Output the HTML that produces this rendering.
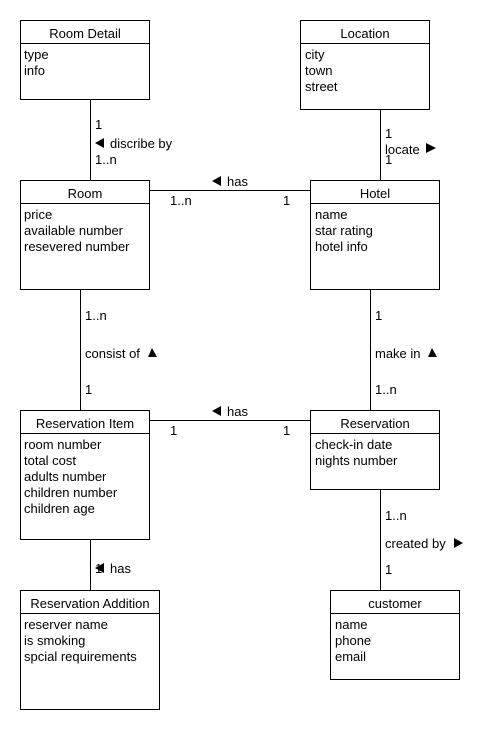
<!DOCTYPE html>
<html><head><meta charset="utf-8"><style>
html,body{margin:0;padding:0;background:#fff;}
svg{display:block;font-family:"Liberation Sans",Arial,sans-serif;font-size:13px;}
</style></head><body>
<svg width="500" height="730" viewBox="0 0 500 730" xmlns="http://www.w3.org/2000/svg">
<g fill="#fff" stroke="#000" stroke-width="1">
<rect x="20.5" y="20.5" width="129" height="79"/><line x1="20.5" y1="43.5" x2="149.5" y2="43.5"/>
<rect x="300.5" y="20.5" width="129" height="89"/><line x1="300.5" y1="43.5" x2="429.5" y2="43.5"/>
<rect x="20.5" y="180.5" width="129" height="109"/><line x1="20.5" y1="203.5" x2="149.5" y2="203.5"/>
<rect x="310.5" y="180.5" width="129" height="109"/><line x1="310.5" y1="203.5" x2="439.5" y2="203.5"/>
<rect x="20.5" y="410.5" width="129" height="129"/><line x1="20.5" y1="433.5" x2="149.5" y2="433.5"/>
<rect x="310.5" y="410.5" width="129" height="79"/><line x1="310.5" y1="433.5" x2="439.5" y2="433.5"/>
<rect x="20.5" y="590.5" width="139" height="119"/><line x1="20.5" y1="613.5" x2="159.5" y2="613.5"/>
<rect x="330.5" y="590.5" width="129" height="89"/><line x1="330.5" y1="613.5" x2="459.5" y2="613.5"/>
<line x1="90.5" y1="99.5" x2="90.5" y2="180.5"/>
<line x1="380.5" y1="109.5" x2="380.5" y2="180.5"/>
<line x1="149.5" y1="190.5" x2="310.5" y2="190.5"/>
<line x1="80.5" y1="289.5" x2="80.5" y2="410.5"/>
<line x1="370.5" y1="289.5" x2="370.5" y2="410.5"/>
<line x1="149.5" y1="420.5" x2="310.5" y2="420.5"/>
<line x1="380.5" y1="489.5" x2="380.5" y2="590.5"/>
<line x1="90.5" y1="539.5" x2="90.5" y2="590.5"/>
</g>
<g fill="#000">
<g text-anchor="middle">
<text x="85" y="38">Room Detail</text>
<text x="365" y="38">Location</text>
<text x="85" y="198">Room</text>
<text x="375" y="198">Hotel</text>
<text x="85" y="428">Reservation Item</text>
<text x="375" y="428">Reservation</text>
<text x="90" y="608">Reservation Addition</text>
<text x="395" y="608">customer</text>
</g>
<text x="24" y="59">type</text><text x="24" y="75">info</text>
<text x="305" y="59">city</text><text x="305" y="75">town</text><text x="305" y="91">street</text>
<text x="24" y="219">price</text><text x="24" y="235">available number</text><text x="24" y="251">resevered number</text>
<text x="315" y="219">name</text><text x="315" y="235">star rating</text><text x="315" y="251">hotel info</text>
<text x="24" y="449">room number</text><text x="24" y="465">total cost</text><text x="24" y="481">adults number</text><text x="24" y="497">children number</text><text x="24" y="513">children age</text>
<text x="315" y="449">check-in date</text><text x="315" y="465">nights number</text>
<text x="24" y="629">reserver name</text><text x="24" y="645">is smoking</text><text x="24" y="661">spcial requirements</text>
<text x="335" y="629">name</text><text x="335" y="645">phone</text><text x="335" y="661">email</text>

<text x="95" y="129">1</text>
<polygon points="95,143 104,138 104,148"/><text x="110" y="148">discribe by</text>
<text x="95" y="164">1..n</text>

<text x="385" y="138">1</text>
<text x="385" y="154">locate</text><polygon points="426,143 426,153 436,148"/>
<text x="385" y="164">1</text>

<polygon points="212,181 221,176 221,186"/><text x="227" y="186">has</text>
<text x="170" y="205">1..n</text><text x="283" y="205">1</text>

<text x="85" y="320">1..n</text>
<text x="85" y="358">consist of</text><polygon points="148,357 152,348 157,357"/>
<text x="85" y="394">1</text>

<text x="375" y="320">1</text>
<text x="375" y="358">make in</text><polygon points="428,357 432,348 437,357"/>
<text x="375" y="394">1..n</text>

<polygon points="212,411 221,406 221,416"/><text x="227" y="416">has</text>
<text x="170" y="435">1</text><text x="283" y="435">1</text>

<text x="385" y="520">1..n</text>
<text x="385" y="548">created by</text><polygon points="454,538 454,548 463,543"/>
<text x="385" y="574">1</text>

<text x="95" y="573">1</text>
<polygon points="95,568 104,563 104,573"/><text x="110" y="573">has</text>
</g>
</svg>
</body></html>
